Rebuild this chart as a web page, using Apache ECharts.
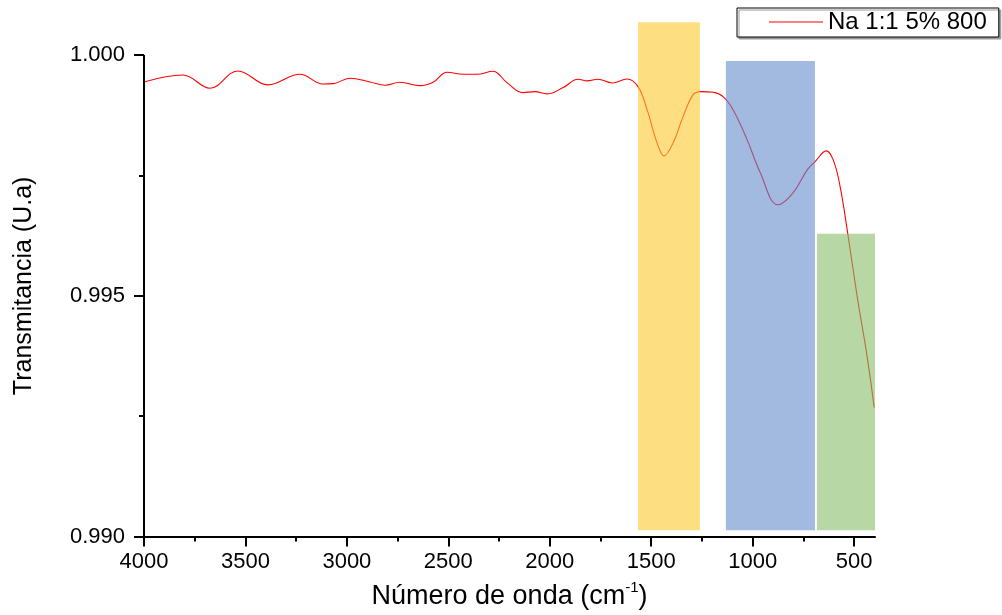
<!DOCTYPE html>
<html>
<head>
<meta charset="utf-8">
<script src="https://cdn.jsdelivr.net/npm/echarts@6/dist/echarts.min.js"></script>
<style>html,body{margin:0;padding:0;background:#fff}#c{width:1002px;height:615px}</style>
</head>
<body>
<div id="c"></div>
<script>
// ---- data ----
const wavenumber = [4000, 3808, 3675, 3537, 3389, 3231, 3118, 3068, 2985, 2886,
  2812, 2738, 2639, 2575, 2506, 2427, 2358, 2280, 2211, 2132,
  2073, 2013, 1934, 1861, 1816, 1762, 1693, 1619, 1565, 1520,
  1471, 1437, 1392, 1343, 1294, 1259, 1195, 1146, 1096, 1027,
  963, 875, 801, 731, 692, 638, 603, 569, 534, 485,
  436, 401];
const transmittance = [0.999440, 0.999585, 0.999309, 0.999668, 0.999378, 0.999600, 0.999398, 0.999405, 0.999517, 0.999440,
  0.999371, 0.999434, 0.999363, 0.999434, 0.999641, 0.999600, 0.999600, 0.999662, 0.999425, 0.999218,
  0.999239, 0.999191, 0.999322, 0.999496, 0.999461, 0.999496, 0.999419, 0.999502, 0.999342, 0.998859,
  0.998174, 0.997905, 0.998174, 0.998720, 0.999170, 0.999239, 0.999226, 0.999135, 0.998859, 0.998237,
  0.997560, 0.996888, 0.997137, 0.997614, 0.997786, 0.998008, 0.997822, 0.997268, 0.996369, 0.994985,
  0.993741, 0.992676];
const seriesName = 'Na 1:1 5% 800';

// shaded bands (wavenumber start/end, transmittance top/bottom)
const bandStart = [1565, 1132, 683];
const bandEnd = [1260, 693, 397];
const bandTop = [1.00068, 0.999876, 0.996286];
const bandBottom = [0.99013, 0.99013, 0.99013];
const bandColors = ['rgb(252,200,43)', 'rgb(100,138,203)', 'rgb(135,188,103)'];

// tick labels
const xTicks = [4000, 3500, 3000, 2500, 2000, 1500, 1000, 500];
const xMinorTicks = [3750, 3250, 2750, 2250, 1750, 1250, 750];
const yTicks = [0.990, 0.995, 1.000];
const yMinorTicks = [0.9925, 0.9975];

const xMin = 397, xMax = 4000, yMin = 0.990, yMax = 1.0007, yAxisTop = 1.000;

const FONT = '"Liberation Sans", Arial, sans-serif';
const lineData = wavenumber.map((w, i) => [w, transmittance[i]]);
const bandData = bandStart.map((s, i) => [
  { coord: [s, bandTop[i]], itemStyle: { color: bandColors[i], opacity: 0.6 } },
  { coord: [bandEnd[i], bandBottom[i]] }
]);

const chart = echarts.init(document.getElementById('c'), null, { renderer: 'canvas' });
const axisLineStyle = { color: '#000', width: 2 };
chart.setOption({
  animation: false,
  backgroundColor: '#fff',
  grid: { left: 144, right: 127, top: 21.26, bottom: 78 },
  legend: {
    data: [{ name: seriesName, icon: 'rect' }],
    left: 737, top: 8,
    padding: [2, 12, 3, 32],
    itemWidth: 54, itemHeight: 1.2,
    borderColor: '#000', borderWidth: 1,
    backgroundColor: '#fff',
    shadowColor: '#9a9a9a', shadowBlur: 0, shadowOffsetX: 2, shadowOffsetY: 2,
    textStyle: { fontSize: 24, color: '#000', fontFamily: FONT, lineHeight: 24 }
  },
  xAxis: [{
    type: 'value', min: xMin, max: xMax, inverse: true,
    axisLine: { lineStyle: axisLineStyle },
    axisTick: { customValues: xTicks, length: 10, lineStyle: axisLineStyle },
    axisLabel: { customValues: xTicks, margin: 14, fontSize: 22, color: '#000', fontFamily: FONT,
      formatter: v => String(Math.round(v)) },
    splitLine: { show: false },
    name: '{a|Número de onda (cm}{s|-1}{a|)}',
    nameLocation: 'middle', nameGap: 44,
    nameTextStyle: {
      rich: {
        a: { fontSize: 27, color: '#000', fontFamily: FONT, lineHeight: 32 },
        s: { fontSize: 15, color: '#000', fontFamily: FONT, verticalAlign: 'top', lineHeight: 15 }
      }
    }
  }, {
    type: 'value', min: xMin, max: xMax, inverse: true, position: 'bottom',
    axisLine: { show: false },
    axisTick: { customValues: xMinorTicks, length: 5, lineStyle: axisLineStyle },
    axisLabel: { show: false },
    splitLine: { show: false }
  }],
  yAxis: [{
    type: 'value', min: yMin, max: yMax,
    axisLine: { show: false },
    axisTick: { show: true, customValues: yTicks, length: 10, lineStyle: axisLineStyle },
    axisLabel: { customValues: yTicks, margin: 19, fontSize: 22, color: '#000', fontFamily: FONT,
      formatter: v => Number(v).toFixed(3) },
    splitLine: { show: false },
    name: 'Transmitancia (U.a)',
    nameLocation: 'middle', nameRotate: 90, nameGap: 107,
    nameTextStyle: { fontSize: 25, color: '#000', fontFamily: FONT, padding: [0, 14, 0, 0] }
  }, {
    type: 'value', min: yMin, max: yMax, position: 'left',
    axisLine: { show: false },
    axisTick: { show: true, customValues: yMinorTicks, length: 5, lineStyle: axisLineStyle },
    axisLabel: { show: false },
    splitLine: { show: false }
  }],
  series: [{
    name: seriesName,
    type: 'line',
    data: lineData,
    smooth: 0.4,
    symbol: 'none',
    lineStyle: { color: '#ff0000', width: 1.1 },
    itemStyle: { color: '#ff0000' },
    z: 2
  }, {
    name: 'bands',
    type: 'line',
    data: [],
    clip: false,
    z: 3,
    markArea: { silent: true, z: 3, data: bandData },
    markLine: {
      silent: true, symbol: 'none', label: { show: false },
      lineStyle: { color: '#000', width: 2, type: 'solid' },
      data: [[{ coord: [xMax, yMin] }, { coord: [xMax, yAxisTop] }]]
    }
  }]
});
</script>
</body>
</html>
